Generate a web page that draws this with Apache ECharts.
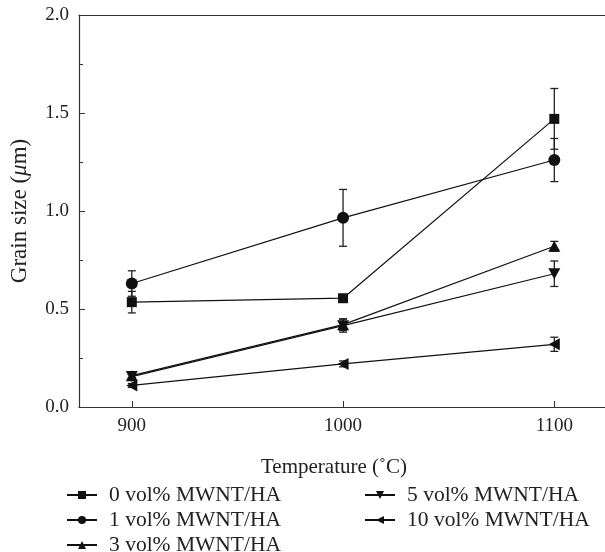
<!DOCTYPE html>
<html>
<head>
<meta charset="utf-8">
<script src="https://cdn.jsdelivr.net/npm/echarts@6/dist/echarts.min.js"></script>
<style>
  html, body { margin: 0; padding: 0; background: #fff; }
  #chart { width: 605px; height: 552px; }
</style>
</head>
<body>
<div id="chart"></div>
<script>
// temperatures (°C)
const temps = [900, 1000, 1100];
const tickTemps = [900, 1000, 1100];

// grain size (um) and error half-widths
const names = ['0 vol% MWNT/HA', '1 vol% MWNT/HA', '3 vol% MWNT/HA', '5 vol% MWNT/HA', '10 vol% MWNT/HA'];
const vol0 = [0.535, 0.555, 1.47];
const vol1 = [0.63, 0.965, 1.26];
const vol3 = [0.16, 0.42, 0.82];
const vol5 = [0.155, 0.415, 0.68];
const vol10 = [0.11, 0.22, 0.32];

const err0 = [0.055, 0, 0.155];
const err1 = [0.065, 0.145, 0.11];
const err3 = [0.01, 0.03, 0.025];
const err5 = [0.01, 0.033, 0.065];
const err10 = [0.01, 0.015, 0.036];

const symbols = [
    'rect',
    'circle',
    'path://M5,0L10,9L0,9Z',
    'path://M0,0L10,0L5,9Z',
    'path://M0,5L9,0L9,10Z'
];
const symbolSizes = [10, 12, [12, 11], [12, 11], [11, 12]];

const values = [vol0, vol1, vol3, vol5, vol10];
const errors = [err0, err1, err3, err5, err10];

const font = '"Liberation Serif", "Times New Roman", serif';

function initChart() {
    const chart = echarts.init(document.getElementById('chart'));

    const series = [];
    values.forEach(function (vals, i) {
        series.push({
            name: names[i],
            type: 'line',
            data: temps.map(function (t, j) { return [t, vals[j]]; }),
            symbol: symbols[i],
            symbolSize: symbolSizes[i],
            lineStyle: { color: '#111', width: 1.2 },
            itemStyle: { color: '#111', borderWidth: 0 },
            z: 3
        });
        // error bars
        series.push({
            type: 'custom',
            data: temps.map(function (t, j) { return [t, vals[j], errors[i][j]]; }),
            renderItem: function (params, api) {
                const x = api.value(0), y = api.value(1), e = api.value(2);
                if (!e) return;
                const top = api.coord([x, y + e]);
                const bot = api.coord([x, y - e]);
                const w = 4;
                const st = { stroke: '#222', lineWidth: 1.3 };
                return {
                    type: 'group',
                    children: [
                        { type: 'line', shape: { x1: top[0], y1: top[1], x2: bot[0], y2: bot[1] }, style: st },
                        { type: 'line', shape: { x1: top[0] - w, y1: top[1], x2: top[0] + w, y2: top[1] }, style: st },
                        { type: 'line', shape: { x1: bot[0] - w, y1: bot[1], x2: bot[0] + w, y2: bot[1] }, style: st }
                    ]
                };
            },
            z: 2,
            silent: true
        });
    });

    const legendText = { fontFamily: font, fontSize: 21.5, color: '#222', padding: [0, 0, 0, 7] };

    chart.setOption({
        animation: false,
        textStyle: { fontFamily: font },
        grid: { left: 77, right: 0, top: 15, bottom: 145 },
        legend: [{
            data: [names[0], names[1], names[2]],
            orient: 'vertical',
            left: 66,
            top: 484,
            height: 100,
            padding: 0,
            itemWidth: 30,
            itemHeight: 10,
            itemGap: 3,
            textStyle: legendText
        }, {
            data: [names[3], names[4]],
            orient: 'vertical',
            left: 364,
            top: 484,
            height: 100,
            padding: 0,
            itemWidth: 30,
            itemHeight: 10,
            itemGap: 3,
            textStyle: legendText
        }],
        xAxis: [{
            type: 'value',
            min: 875,
            max: 1124,
            name: 'Temperature (˚C)',
            nameLocation: 'middle',
            nameGap: 50,
            nameTextStyle: { fontFamily: font, fontSize: 21, color: '#222', padding: [0, 16, 0, 0] },
            axisLine: { lineStyle: { color: '#333', width: 1.2 } },
            axisTick: { inside: true, length: 6, customValues: tickTemps, lineStyle: { color: '#333' } },
            axisLabel: {
                customValues: tickTemps, fontFamily: font, fontSize: 19, color: '#222', margin: 10,
                formatter: function (v) { return String(v); }
            },
            splitLine: { show: false }
        }, {
            type: 'value',
            position: 'top',
            min: 875,
            max: 1124,
            axisLine: { show: true, onZero: false, lineStyle: { color: '#333', width: 1.2 } },
            axisTick: { show: false },
            axisLabel: { show: false },
            splitLine: { show: false }
        }],
        yAxis: {
            type: 'value',
            min: 0,
            max: 2,
            interval: 0.5,
            name: 'Grain size ({i|μ}m)',
            nameLocation: 'middle',
            nameGap: 48,
            nameRotate: 90,
            nameTextStyle: {
                fontFamily: font, fontSize: 23, color: '#222',
                rich: { i: { fontFamily: font, fontSize: 23, fontStyle: 'italic', color: '#222' } }
            },
            axisLine: { show: true, lineStyle: { color: '#333', width: 1.2 } },
            axisTick: { inside: true, length: 6, lineStyle: { color: '#333' } },
            minorTick: { show: true, splitNumber: 2, length: 4, lineStyle: { color: '#333' } },
            axisLabel: {
                fontFamily: font, fontSize: 19, color: '#222', margin: 10,
                formatter: function (v) { return v.toFixed(1); }
            },
            splitLine: { show: false }
        },
        series: series
    });
}

document.addEventListener('DOMContentLoaded', initChart);
</script>
</body>
</html>
